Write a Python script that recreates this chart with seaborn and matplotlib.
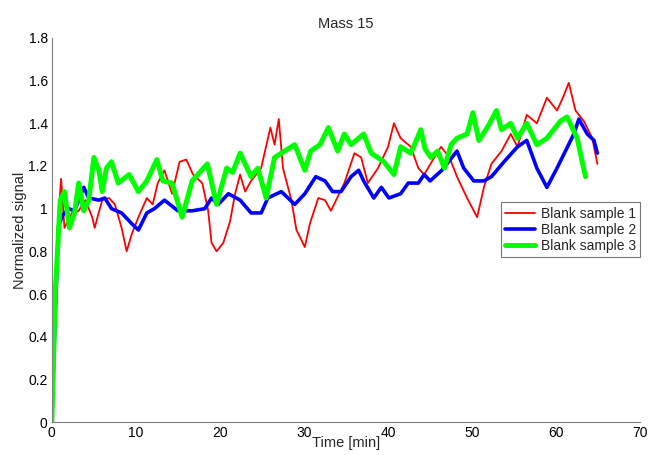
import numpy as np
import pandas as pd
import matplotlib
matplotlib.use("Agg")
import matplotlib.pyplot as plt
import seaborn as sns

t_red = [0, 0.3, 0.6, 1.1, 1.5, 2.0, 2.4, 3.2, 4.0, 4.8, 5.1, 5.5, 6.0, 6.8, 7.5, 8.3, 8.9, 9.5,
         10.3, 11.3, 12.0, 12.6, 13.4, 14.3, 15.2, 16.0, 16.8, 17.9, 18.6, 19.0, 19.6, 20.4, 21.2,
         21.8, 22.4, 23.0, 23.7, 24.9, 26.0, 26.5, 27.0, 27.5, 28.5, 29.1, 30.1, 30.7, 31.7, 32.5,
         33.2, 34.8, 36.0, 36.8, 37.6, 38.8, 40.0, 40.7, 41.5, 42.7, 43.6, 44.3, 45.2, 46.3, 47.3,
         48.2, 49.4, 50.6, 51.4, 52.3, 53.5, 54.6, 55.4, 56.5, 57.7, 58.9, 60.1, 60.8, 61.5, 62.3,
         63.3, 64.3, 64.9]
v_red = [0, 0.45, 0.85, 1.14, 0.91, 0.95, 0.98, 0.99, 1.04, 0.96, 0.91, 0.97, 1.04, 1.05, 1.02,
         0.91, 0.80, 0.88, 0.96, 1.05, 1.02, 1.12, 1.18, 1.07, 1.22, 1.23, 1.16, 1.12, 0.99, 0.84,
         0.80, 0.84, 0.94, 1.07, 1.16, 1.08, 1.13, 1.19, 1.38, 1.30, 1.42, 1.19, 1.04, 0.90, 0.82,
         0.93, 1.05, 1.04, 0.99, 1.12, 1.26, 1.24, 1.12, 1.19, 1.29, 1.40, 1.33, 1.29, 1.19, 1.16,
         1.22, 1.29, 1.24, 1.15, 1.05, 0.96, 1.10, 1.21, 1.27, 1.35, 1.29, 1.44, 1.40, 1.52, 1.46,
         1.52, 1.59, 1.46, 1.41, 1.33, 1.21]

t_blue = [0, 0.4, 0.8, 1.3, 2.0, 2.7, 3.8, 4.4, 5.6, 6.3, 7.1, 8.3, 9.5, 10.3, 11.3, 12.2, 13.4,
          15.0, 16.7, 18.2, 19.0, 19.8, 21.0, 22.4, 23.7, 24.9, 25.7, 27.3, 28.9, 30.1, 31.4, 32.5,
          33.4, 34.4, 35.6, 36.5, 37.1, 38.3, 39.2, 40.1, 41.5, 42.4, 43.6, 44.3, 45.0, 46.4, 48.2,
          49.0, 50.2, 51.4, 52.3, 53.8, 55.4, 56.5, 57.7, 58.9, 60.1, 62.1, 62.7, 63.7, 64.5, 64.9]
v_blue = [0, 0.5, 0.92, 0.97, 1.0, 0.99, 1.10, 1.05, 1.04, 1.05, 1.0, 0.98, 0.93, 0.90, 0.98,
          1.0, 1.04, 0.99, 0.99, 1.0, 1.05, 1.02, 1.07, 1.04, 0.98, 0.98, 1.05, 1.08, 1.02, 1.07,
          1.15, 1.13, 1.08, 1.08, 1.15, 1.18, 1.13, 1.05, 1.10, 1.05, 1.07, 1.12, 1.12, 1.16, 1.13,
          1.18, 1.27, 1.19, 1.13, 1.13, 1.15, 1.22, 1.29, 1.32, 1.19, 1.10, 1.19, 1.35, 1.42, 1.35,
          1.32, 1.26]

t_green = [0, 0.4, 1.0, 1.5, 2.1, 2.7, 3.2, 3.8, 4.4, 5.0, 5.6, 6.0, 6.5, 7.1, 7.9, 9.2, 10.3,
           11.3, 12.5, 13.2, 14.3, 15.5, 16.7, 18.5, 19.6, 20.8, 21.5, 22.4, 23.7, 24.5, 25.5, 26.5,
           27.7, 28.9, 30.1, 30.8, 31.9, 32.9, 33.2, 34.0, 34.8, 35.6, 37.1, 38.0, 39.5, 40.7, 41.5,
           42.7, 43.9, 44.4, 45.1, 45.9, 46.7, 47.5, 48.2, 49.4, 50.1, 50.8, 51.8, 52.9, 53.5, 54.6,
           55.4, 56.5, 57.7, 58.9, 60.5, 61.3, 62.5, 63.1, 63.5]
v_green = [0, 0.6, 1.04, 1.08, 0.91, 0.98, 1.12, 0.99, 1.04, 1.24, 1.18, 1.08, 1.19, 1.22, 1.12,
           1.16, 1.08, 1.13, 1.23, 1.13, 1.12, 0.96, 1.13, 1.21, 1.02, 1.19, 1.17, 1.26, 1.15, 1.19,
           1.05, 1.24, 1.27, 1.30, 1.18, 1.27, 1.30, 1.38, 1.35, 1.27, 1.35, 1.30, 1.35, 1.26, 1.22,
           1.16, 1.29, 1.26, 1.37, 1.28, 1.24, 1.27, 1.19, 1.30, 1.33, 1.35, 1.45, 1.32, 1.38, 1.46,
           1.37, 1.40, 1.33, 1.40, 1.30, 1.33, 1.41, 1.43, 1.33, 1.22, 1.15]

labels = ["Blank sample 1", "Blank sample 2", "Blank sample 3"]
colors = ["#ff0000", "#0000ff", "#00ff00"]
widths = [1.3, 2.6, 3.6]

x_ticks = [0, 10, 20, 30, 40, 50, 60, 70]
y_ticks = [0, 0.2, 0.4, 0.6, 0.8, 1, 1.2, 1.4, 1.6, 1.8]
y_ticklabels = ["0", "0.2", "0.4", "0.6", "0.8", "1", "1.2", "1.4", "1.6", "1.8"]

sns.set_style("white")
plt.rcParams['font.family'] = ['Liberation Sans', 'DejaVu Sans']

fig = plt.figure(figsize=(6.48, 4.55), dpi=100)
ax = fig.add_axes([0.080, 0.0725, 0.908, 0.844])

series = [(t_red, v_red), (t_blue, v_blue), (t_green, v_green)]
for (t, v), lab, c, w in zip(series, labels, colors, widths):
    df = pd.DataFrame({"t": t, "v": v})
    sns.lineplot(data=df, x="t", y="v", ax=ax, color=c, linewidth=w, label=lab,
                 sort=False, estimator=None)

ax.set_xlim(0, 70)
ax.set_ylim(0, 1.8)
ax.set_xticks(x_ticks)
ax.set_yticks(y_ticks)
ax.set_yticklabels(y_ticklabels)
ax.tick_params(direction="in", length=4, width=0.8, colors="#808080",
               labelcolor="black", labelsize=10, pad=3)
for s in ["top", "right"]:
    ax.spines[s].set_visible(False)
for s in ["left", "bottom"]:
    ax.spines[s].set_color("#808080")
    ax.spines[s].set_linewidth(0.8)

ax.set_title("Mass 15", fontsize=10.5, pad=7)
ax.set_xlabel("Time [min]", fontsize=10.5, labelpad=-3)
ax.set_ylabel("Normalized signal", fontsize=10.5, labelpad=1)

leg = ax.legend(loc="upper right", bbox_to_anchor=(1.0, 0.572), fontsize=10,
                frameon=True, fancybox=False, borderpad=0.3, handlelength=2.2,
                labelspacing=0.15, handletextpad=0.4, borderaxespad=0)
leg.get_frame().set_edgecolor("#555555")
leg.get_frame().set_linewidth(0.8)

fig.savefig("out.png", dpi=100)
